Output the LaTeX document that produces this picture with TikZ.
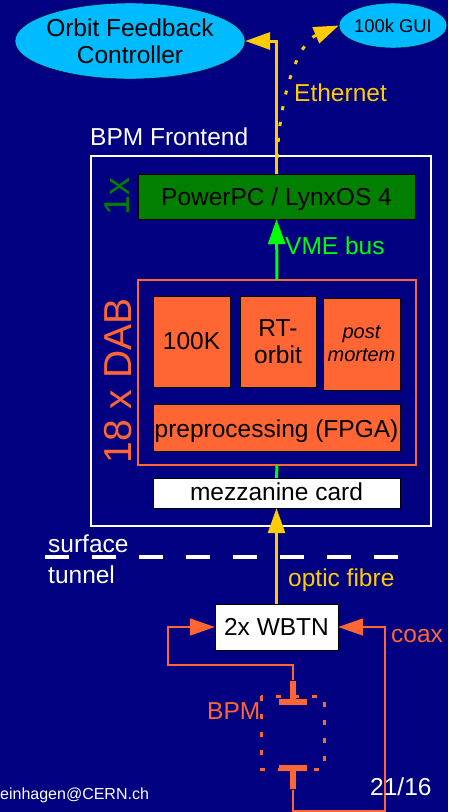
\documentclass[tikz,border=0pt]{standalone}
\usepackage{fontspec}
\setmainfont{Liberation Sans}
\usepackage{xcolor}
\usetikzlibrary{positioning}
\usetikzlibrary{shapes.geometric}
\usetikzlibrary{arrows.meta}
\definecolor{slidebg}{HTML}{000080}
\definecolor{skyfill}{HTML}{00BBFF}
\definecolor{fibre}{HTML}{FFCC00}
\definecolor{dab}{HTML}{FF6633}
\definecolor{vme}{HTML}{00FF00}
\definecolor{ppc}{HTML}{007F00}
\tikzset{
  cloud/.style={ellipse, draw=black, fill=skyfill, inner sep=-3pt, align=center, text=black},
  block/.style={rectangle, draw=black, fill=dab, inner sep=0pt, align=center, text=black, font=\fontsize{24.5}{27}\selectfont},
  whitebox/.style={block, fill=white},
  label/.style={inner sep=0pt, anchor=west, font=\fontsize{24.5}{27}\selectfont},
  bighead/.style={-{Triangle[length=25pt,width=17pt]}},
  button/.style={rectangle, fill=dab, inner sep=0pt},
}

\begin{document}
\begin{tikzpicture}[x=1pt,y=-1pt]

% Background
\fill[slidebg] (0,0) rectangle (448,812);
\useasboundingbox (0,0) rectangle (448,812);

% Frontend frame
\draw[white, line width=1.6pt] (91,156) rectangle (431,526);
\draw[dab, line width=1.6pt] (138,280) rectangle (416,465);

% Clients
\node[cloud, minimum width=230pt, minimum height=76pt, font=\fontsize{24.5}{27}\selectfont] (ofc) at (130,41) {Orbit Feedback\\Controller};
\node[cloud, minimum width=108pt, minimum height=45pt, font=\fontsize{18.4}{20}\selectfont] (gui) at (393,25.5) {100k GUI};

% Boxes
\node[block, fill=ppc, minimum width=277pt, minimum height=45pt, text height=22pt, text depth=5pt] (power) at (276.5,196.5) {PowerPC / LynxOS 4};
\node[block, minimum width=77pt, minimum height=91pt] (hundred) at (191.5,341.5) {100K};
\node[block, minimum width=76pt, minimum height=91pt] (rtorbit) at (278,341.5) {RT-\\orbit};
\node[block, minimum width=77pt, minimum height=92pt, font=\fontsize{20}{23}\selectfont\itshape] (postm) at (361.5,344) {post\\mortem};
\node[block, minimum width=247pt, minimum height=47pt, text height=24pt, text depth=5pt] (prepro) at (276.5,427.5) {preprocessing (FPGA)};
\node[whitebox, minimum width=247pt, minimum height=30pt, text height=18pt, text depth=4pt] (mezz) at (276.5,493) {mezzanine card};
\node[whitebox, minimum width=123pt, minimum height=46pt] (wbtn) at (276.5,627) {2x WBTN};

% BPM pick-ups
\draw[dab, line width=3pt, dash pattern=on 5pt off 13pt] (261,696) rectangle (324,769);
\node[button, minimum width=28pt, minimum height=6pt] (barA) at (293,702) {};
\node[button, minimum width=6pt, minimum height=18pt, above=0pt of barA] (stemA) {};
\node[button, minimum width=28pt, minimum height=6pt] (barB) at (293,768) {};
\node[button, minimum width=6pt, minimum height=18pt, below=0pt of barB] (stemB) {};

% Connections
\coordinate (cornerA) at (168,665);
\coordinate (cornerB) at (385,811);
\draw[fibre, line width=3pt, bighead] (power.north) |- (ofc.east);
\draw[fibre, line width=3pt, dash pattern=on 4pt off 12pt, bighead] (power.north) .. controls (278,90) and (300,42) .. (gui.west);
\draw[vme, line width=3pt, bighead] (277,280) -- (power.south);
\draw[vme, line width=3pt] (277,465) -- (mezz.north);
\draw[fibre, line width=3pt, bighead] (wbtn.north) -- (mezz.south);
\draw[dab, line width=1.8pt, bighead] (stemA.north) |- (cornerA) |- (wbtn.west);
\draw[dab, line width=1.8pt, bighead] (stemB.south) |- (cornerB) |- (wbtn.east);

% Surface line
\draw[white, line width=4pt, dash pattern=on 24pt off 23pt] (45,557) -- (398,557);

% Labels
\node[label, text=white] (frontend) at (90,137) {BPM Frontend};
\node[label, text=fibre] (ethernet) at (294,93) {Ethernet};
\node[label, text=vme] (vmebus) at (285,246) {VME bus};
\node[label, text=ppc, anchor=center, rotate=90, font=\fontsize{36}{38}\selectfont] (onex) at (117,196) {1x};
\node[label, text=dab, anchor=center, rotate=90, font=\fontsize{39}{41}\selectfont] (dabs) at (118,381) {18 x DAB};
\node[label, text=white] (surface) at (48,544) {surface};
\node[label, text=white] (tunnel) at (48,575) {tunnel};
\node[label, text=fibre] (optic) at (288,580) {optic fibre};
\node[label, text=dab] (coax) at (391,636) {coax};
\node[label, text=dab] (bpm) at (207,711) {BPM};
\node[label, text=white] (page) at (370,787) {21/16};
\node[label, text=white, font=\fontsize{16}{18}\selectfont] (mail) at (0,795) {einhagen@CERN.ch};

\end{tikzpicture}
\end{document}
